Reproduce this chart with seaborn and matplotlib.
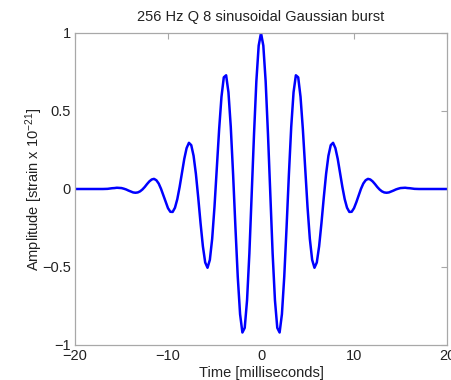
import numpy as np
import pandas as pd
import matplotlib
matplotlib.use("Agg")
import matplotlib.pyplot as plt
import seaborn as sns

# ---- data ----
title = "256 Hz Q 8 sinusoidal Gaussian burst"
x_ticks = [-20, -10, 0, 10, 20]
y_ticks = [-1, -0.5, 0, 0.5, 1]

# sampling times (ms): sparse flat tails, 0.25 ms grid through the burst
time_ms = np.concatenate([[-20, -19, -18, -17],
                          np.arange(-66, 67) * 0.25,
                          [17, 18, 19, 20]])

amplitude = [
    0.0, 0.0, 0.0, 0.0,
    0.001, 0.003, 0.005, 0.006, 0.008, 0.007, 0.006, 0.002, -0.003, -0.010,
    -0.016, -0.022, -0.024, -0.022, -0.015, -0.003, 0.013, 0.032, 0.049, 0.061,
    0.065, 0.056, 0.035, 0.001, -0.041, -0.085, -0.123, -0.146, -0.147, -0.120,
    -0.065, 0.013, 0.104, 0.193, 0.262, 0.296, 0.281, 0.213, 0.097, -0.055,
    -0.219, -0.367, -0.471, -0.505, -0.454, -0.319, -0.113, 0.134, 0.384, 0.591,
    0.716, 0.729, 0.620, 0.398, 0.094, -0.245, -0.562, -0.802, -0.920, -0.890,
    -0.713, -0.413, -0.037, 0.352, 0.690, 0.919,
    1.000,
    0.919, 0.690, 0.352, -0.037, -0.413, -0.713,
    -0.890, -0.920, -0.802, -0.562, -0.245, 0.094, 0.398, 0.620, 0.729, 0.716,
    0.591, 0.384, 0.134, -0.113, -0.319, -0.454, -0.505, -0.471, -0.367, -0.219,
    -0.055, 0.097, 0.213, 0.281, 0.296, 0.262, 0.193, 0.104, 0.013, -0.065,
    -0.120, -0.147, -0.146, -0.123, -0.085, -0.041, 0.001, 0.035, 0.056, 0.065,
    0.061, 0.049, 0.032, 0.013, -0.003, -0.015, -0.022, -0.024, -0.022, -0.016,
    -0.010, -0.003, 0.002, 0.006, 0.007, 0.008, 0.006, 0.005, 0.003, 0.001,
    0.0, 0.0, 0.0, 0.0,
]

df = pd.DataFrame({"time": time_ms, "amp": amplitude})

# ---- style ----
sns.set_theme(style="white")
plt.rcParams["font.family"] = ["Liberation Sans", "DejaVu Sans"]
plt.rcParams["mathtext.fontset"] = "custom"
plt.rcParams["mathtext.rm"] = "Liberation Sans"
plt.rcParams["mathtext.it"] = "Liberation Sans"
plt.rcParams["axes.unicode_minus"] = True

fig = plt.figure(figsize=(4.51, 3.80), dpi=100)
ax = fig.add_axes([75 / 451, 1 - 345 / 380, (447 - 75) / 451, (345 - 33) / 380])

sns.lineplot(data=df, x="time", y="amp", ax=ax, color="#0000ff",
             linewidth=1.8, sort=False)

ax.set_xlim(-20, 20)
ax.set_ylim(-1, 1)
ax.set_xticks(x_ticks)
ax.set_yticks(y_ticks)
ax.set_xticklabels([f"{v:g}".replace("-", "\u2212") for v in x_ticks])
ax.set_yticklabels([f"{v:g}".replace("-", "\u2212") for v in y_ticks])

for s in ax.spines.values():
    s.set_color("#a8a8a8")
    s.set_linewidth(0.9)
ax.tick_params(direction="in", length=4, width=0.8, color="#a8a8a8",
               labelsize=10.5, labelcolor="#222222", top=True, right=True,
               pad=3)

ax.set_title(title, fontsize=10.5, color="#222222", pad=9)
ax.set_xlabel("Time [milliseconds]", fontsize=10.5, color="#222222", labelpad=2)
ax.set_ylabel("Amplitude [strain x 10$^{-21}$]", fontsize=10.5,
              color="#222222", labelpad=-2)

fig.savefig("out.png", dpi=100)
